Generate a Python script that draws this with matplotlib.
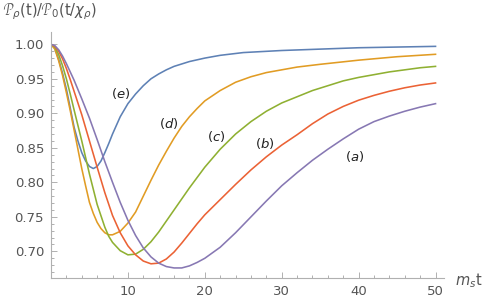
import numpy as np
import matplotlib.pyplot as plt

# values
t_a = [0, 0.5, 1, 1.5, 2, 2.5, 3, 4, 5, 6, 7, 8, 9, 10, 11, 12, 13, 14, 15, 16, 17, 18, 19, 20,
       22, 24, 26, 28, 30, 32, 34, 36, 38, 40, 42, 44, 46, 48, 50]
p_a = [1.000, 0.998, 0.992, 0.983, 0.972, 0.960, 0.948, 0.921, 0.893, 0.862, 0.830, 0.800,
       0.771, 0.745, 0.723, 0.705, 0.692, 0.683, 0.678, 0.676, 0.676, 0.679, 0.684, 0.690,
       0.706, 0.727, 0.750, 0.773, 0.795, 0.814, 0.832, 0.848, 0.863, 0.877,
       0.888, 0.896, 0.903, 0.909, 0.914]

t_b = [0, 0.5, 1, 1.5, 2, 2.5, 3, 4, 5, 6, 7, 8, 9, 10, 11, 12, 13, 14, 15, 16, 17, 18, 19, 20,
       22, 24, 26, 28, 30, 32, 34, 36, 38, 40, 42, 44, 46, 48, 50]
p_b = [1.000, 0.997, 0.990, 0.979, 0.965, 0.949, 0.932, 0.898, 0.860, 0.822, 0.785, 0.752,
       0.727, 0.708, 0.695, 0.686, 0.682, 0.683, 0.689, 0.699, 0.712, 0.726, 0.740, 0.753,
       0.775, 0.797, 0.818, 0.837, 0.854, 0.869, 0.885, 0.899, 0.910, 0.919,
       0.926, 0.932, 0.937, 0.941, 0.944]

t_c = [0, 0.5, 1, 1.5, 2, 2.5, 3, 4, 5, 6, 7, 7.5, 8, 9, 10, 11, 12, 13, 14, 15, 16, 17, 18,
       19, 20, 22, 24, 26, 28, 30, 32, 34, 36, 38, 40, 42, 44, 46, 48, 50]
p_c = [1.000, 0.996, 0.985, 0.969, 0.950, 0.928, 0.905, 0.860, 0.812, 0.768, 0.735, 0.722,
       0.713, 0.701, 0.695, 0.696, 0.703, 0.714, 0.728, 0.744, 0.760, 0.776, 0.792,
       0.807, 0.822, 0.848, 0.870, 0.888, 0.903, 0.915, 0.924, 0.933, 0.940, 0.947,
       0.952, 0.956, 0.960, 0.963, 0.966, 0.968]

t_d = [0, 0.5, 1, 1.5, 2, 2.5, 3, 3.5, 4, 4.5, 5, 5.5, 6, 6.5, 7, 7.5, 8, 9, 10, 11, 12, 13,
       14, 15, 16, 17, 18, 19, 20, 22, 24, 26, 28, 30, 32, 35, 40, 45, 50]
p_d = [1.000, 0.993, 0.976, 0.955, 0.930, 0.904, 0.876, 0.848, 0.820, 0.795, 0.771, 0.755,
       0.742, 0.733, 0.727, 0.724, 0.724, 0.729, 0.741, 0.757, 0.780, 0.803, 0.825,
       0.845, 0.864, 0.881, 0.895, 0.907, 0.918, 0.933, 0.945, 0.953, 0.959, 0.963,
       0.967, 0.971, 0.977, 0.982, 0.9855]

t_e = [0, 0.5, 1, 1.5, 2, 2.5, 3, 3.5, 4, 4.5, 5, 5.5, 6, 6.5, 7, 7.5, 8, 9, 10, 11, 12, 13,
       14, 15, 16, 18, 20, 22, 25, 30, 35, 40, 45, 50]
p_e = [1.000, 0.994, 0.978, 0.958, 0.935, 0.908, 0.880, 0.860, 0.843, 0.831, 0.823, 0.820,
       0.823, 0.831, 0.843, 0.856, 0.870, 0.895, 0.914, 0.928, 0.940, 0.950, 0.957,
       0.963, 0.968, 0.975, 0.980, 0.984, 0.988, 0.991, 0.993, 0.995, 0.996, 0.997]

labels = ["a", "b", "c", "d", "e"]
label_t = [39.5, 27.8, 21.5, 15.3, 9.1]
label_p = [0.838, 0.857, 0.866, 0.885, 0.928]

plt.rcParams['mathtext.fontset'] = 'custom'
plt.rcParams['mathtext.rm'] = 'DejaVu Sans'
plt.rcParams['mathtext.it'] = 'DejaVu Sans:italic'

grey = '#555555'
fig = plt.figure(figsize=(4.85, 3.04), dpi=100)
ax = fig.add_axes([51 / 485, 1 - 278.3 / 304, 393 / 485, 246.3 / 304])

ax.plot(t_e, p_e, color='#5E81B5', lw=1.15)
ax.plot(t_d, p_d, color='#E19C24', lw=1.15)
ax.plot(t_c, p_c, color='#8FB032', lw=1.15)
ax.plot(t_b, p_b, color='#EB6235', lw=1.15)
ax.plot(t_a, p_a, color='#8778B3', lw=1.15)

for lab, x, y in zip(labels, label_t, label_p):
    ax.text(x, y, "(" + r"$\mathit{" + lab + "}$" + ")", fontsize=9.5,
            ha='center', va='center', color='#222222')

ax.set_xlim(0, 51.1)
ax.set_ylim(0.661, 1.0178)
ax.set_xticks([10, 20, 30, 40, 50])
ax.set_xticks(np.arange(0, 51, 2), minor=True)
ax.set_yticks([0.70, 0.75, 0.80, 0.85, 0.90, 0.95, 1.00])
ax.set_yticks(np.arange(0.67, 1.001, 0.01), minor=True)
ax.set_yticklabels(["0.70", "0.75", "0.80", "0.85", "0.90", "0.95", "1.00"])

for s in ['top', 'right']:
    ax.spines[s].set_visible(False)
for s in ['left', 'bottom']:
    ax.spines[s].set_color('#b0b0b0')
    ax.spines[s].set_linewidth(0.8)

ax.tick_params(which='both', direction='in', color='#b0b0b0', width=0.7)
ax.tick_params(which='major', length=4, labelsize=9.5, labelcolor=grey, pad=5)
ax.tick_params(which='minor', length=2.2)

fig.text(0.006, 1 - 12 / 304, r"$\mathcal{P}_\rho(\mathrm{t})/\mathcal{P}_0(\mathrm{t}/\chi_\rho)$",
         fontsize=10.5, color=grey, ha='left', va='center')
fig.text(455 / 485, 1 - 281 / 304, r"$m_s$t", fontsize=10.5, color=grey,
         ha='left', va='center')

fig.savefig("out.png", dpi=100)
